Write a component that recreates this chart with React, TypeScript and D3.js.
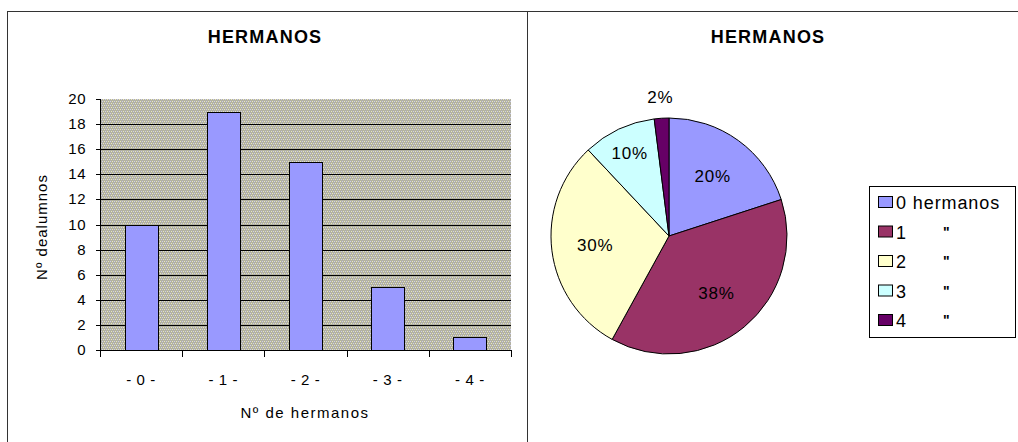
import React from 'react';
import * as d3 from 'd3';

const categories = ['- 0 -', '- 1 -', '- 2 -', '- 3 -', '- 4 -'];
const counts = [10, 19, 15, 5, 1];
const yTicks = [0, 2, 4, 6, 8, 10, 12, 14, 16, 18, 20];

const pieLabels = ['0 hermanos', '1', '2', '3', '4'];
const piePercents = [20, 38, 30, 10, 2];
const pieColors = ['#9999ff', '#993366', '#ffffcc', '#ccffff', '#660066'];

const FONT = '"Liberation Sans", Arial, sans-serif';

export default function App() {
  // bar chart geometry
  const plot = { left: 100, right: 511, top: 99, bottom: 350 };
  const x = d3.scaleBand<string>()
    .domain(categories)
    .range([plot.left, plot.right])
    .paddingInner(0.6)
    .paddingOuter(0.3);
  const y = d3.scaleLinear().domain([0, 20]).range([plot.bottom, plot.top]);
  const step = x.step();
  const bounds = d3.range(categories.length + 1).map(i => plot.left + i * step);

  // pie geometry
  const cx = 669, cy = 236, R = 118;
  const pie = d3.pie<number>().sort(null).value(d => d);
  const arcs = pie(piePercents);
  const arc = d3.arc<d3.PieArcDatum<number>>().innerRadius(0).outerRadius(R);
  const labelPos = (a: d3.PieArcDatum<number>) => {
    const r = a.data >= 20 ? R * 0.63 : a.data >= 10 ? R * 0.78 : R * 1.18;
    const m = (a.startAngle + a.endAngle) / 2;
    return [Math.sin(m) * r, -Math.cos(m) * r];
  };

  return (
    <svg width={1018} height={442} style={{ position: 'absolute', left: 0, top: 0, background: '#fff' }}
      fontFamily={FONT}>
      <defs>
        <pattern id="dither" width="4" height="4" patternUnits="userSpaceOnUse">
          <rect width="4" height="4" fill="#b2b1a2" />
          <rect x="0" y="1" width="1" height="1" fill="#e8e6bc" />
          <rect x="2" y="1" width="1" height="1" fill="#cfcfea" />
          <rect x="1" y="3" width="1" height="1" fill="#cfcfea" />
          <rect x="3" y="3" width="1" height="1" fill="#e8e6bc" />
        </pattern>
      </defs>

      {/* frame */}
      <line x1={7.5} x2={1018} y1={11.5} y2={11.5} stroke="#333" />
      <line x1={7.5} x2={7.5} y1={11} y2={442} stroke="#333" />
      <line x1={527.5} x2={527.5} y1={11} y2={442} stroke="#333" />

      {/* bar chart */}
      <text x={265} y={43} textAnchor="middle" fontWeight="bold" fontSize={18} letterSpacing={1.2}>HERMANOS</text>
      <rect x={plot.left} y={plot.top} width={plot.right - plot.left} height={plot.bottom - plot.top} fill="url(#dither)" />
      {yTicks.filter(t => t > 0 && t < 20).map(t => (
        <line key={t} x1={plot.left} x2={plot.right} y1={Math.round(y(t)) + 0.5} y2={Math.round(y(t)) + 0.5} stroke="#000" />
      ))}
      {categories.map((c, i) => (
        <rect key={c} x={Math.round(x(c)!) + 0.5} y={Math.round(y(counts[i])) + 0.5}
          width={Math.round(x.bandwidth())} height={Math.round(y(0)) - Math.round(y(counts[i]))}
          fill="#9999ff" stroke="#000" />
      ))}
      <line x1={plot.left + 0.5} x2={plot.left + 0.5} y1={plot.top} y2={plot.bottom} stroke="#000" />
      <line x1={plot.left} x2={plot.right} y1={plot.bottom + 0.5} y2={plot.bottom + 0.5} stroke="#000" />
      {yTicks.map(t => (
        <g key={t}>
          <line x1={plot.left - 4} x2={plot.left} y1={Math.round(y(t)) + 0.5} y2={Math.round(y(t)) + 0.5} stroke="#000" />
          <text x={86} y={y(t) + 5} textAnchor="end" fontSize={15} letterSpacing={0.5}>{t}</text>
        </g>
      ))}
      {bounds.map((b, i) => (
        <line key={i} x1={Math.round(b) + 0.5} x2={Math.round(b) + 0.5} y1={plot.bottom} y2={plot.bottom + 7} stroke="#000" />
      ))}
      {categories.map(c => (
        <text key={c} x={x(c)! + x.bandwidth() / 2} y={385} textAnchor="middle" fontSize={15} letterSpacing={0.6}
          style={{ whiteSpace: 'pre' }}>{c}</text>
      ))}
      <text x={305} y={418} textAnchor="middle" fontSize={15} letterSpacing={1.5}>Nº de hermanos</text>
      <text transform="translate(47,227) rotate(-90)" textAnchor="middle" fontSize={15} letterSpacing={1}>Nº dealumnos</text>

      {/* pie chart */}
      <text x={768} y={43} textAnchor="middle" fontWeight="bold" fontSize={18} letterSpacing={1.2}>HERMANOS</text>
      <g transform={`translate(${cx},${cy})`}>
        {arcs.map((a, i) => (
          <path key={i} d={arc(a)!} fill={pieColors[i]} stroke="#000" strokeWidth={1} />
        ))}
        {arcs.map((a, i) => {
          const [lx, ly] = labelPos(a);
          return (
            <text key={i} x={lx} y={ly + 6} textAnchor="middle" fontSize={17} letterSpacing={0.8}>
              {piePercents[i]}%
            </text>
          );
        })}
      </g>

      {/* legend */}
      <rect x={869.5} y={186.5} width={146} height={151} fill="#fff" stroke="#000" />
      {pieLabels.map((l, i) => {
        const ry = 202 + i * 29.5;
        return (
          <g key={l}>
            <rect x={878.5} y={ry - 5.5} width={14} height={11} fill={pieColors[i]} stroke="#000" />
            <text x={896} y={ry + 7} fontSize={18} letterSpacing={0.9}>{l}</text>
            {i > 0 && <text x={943} y={ry + 5} fontSize={14} fontWeight="bold">"</text>}
          </g>
        );
      })}
    </svg>
  );
}
